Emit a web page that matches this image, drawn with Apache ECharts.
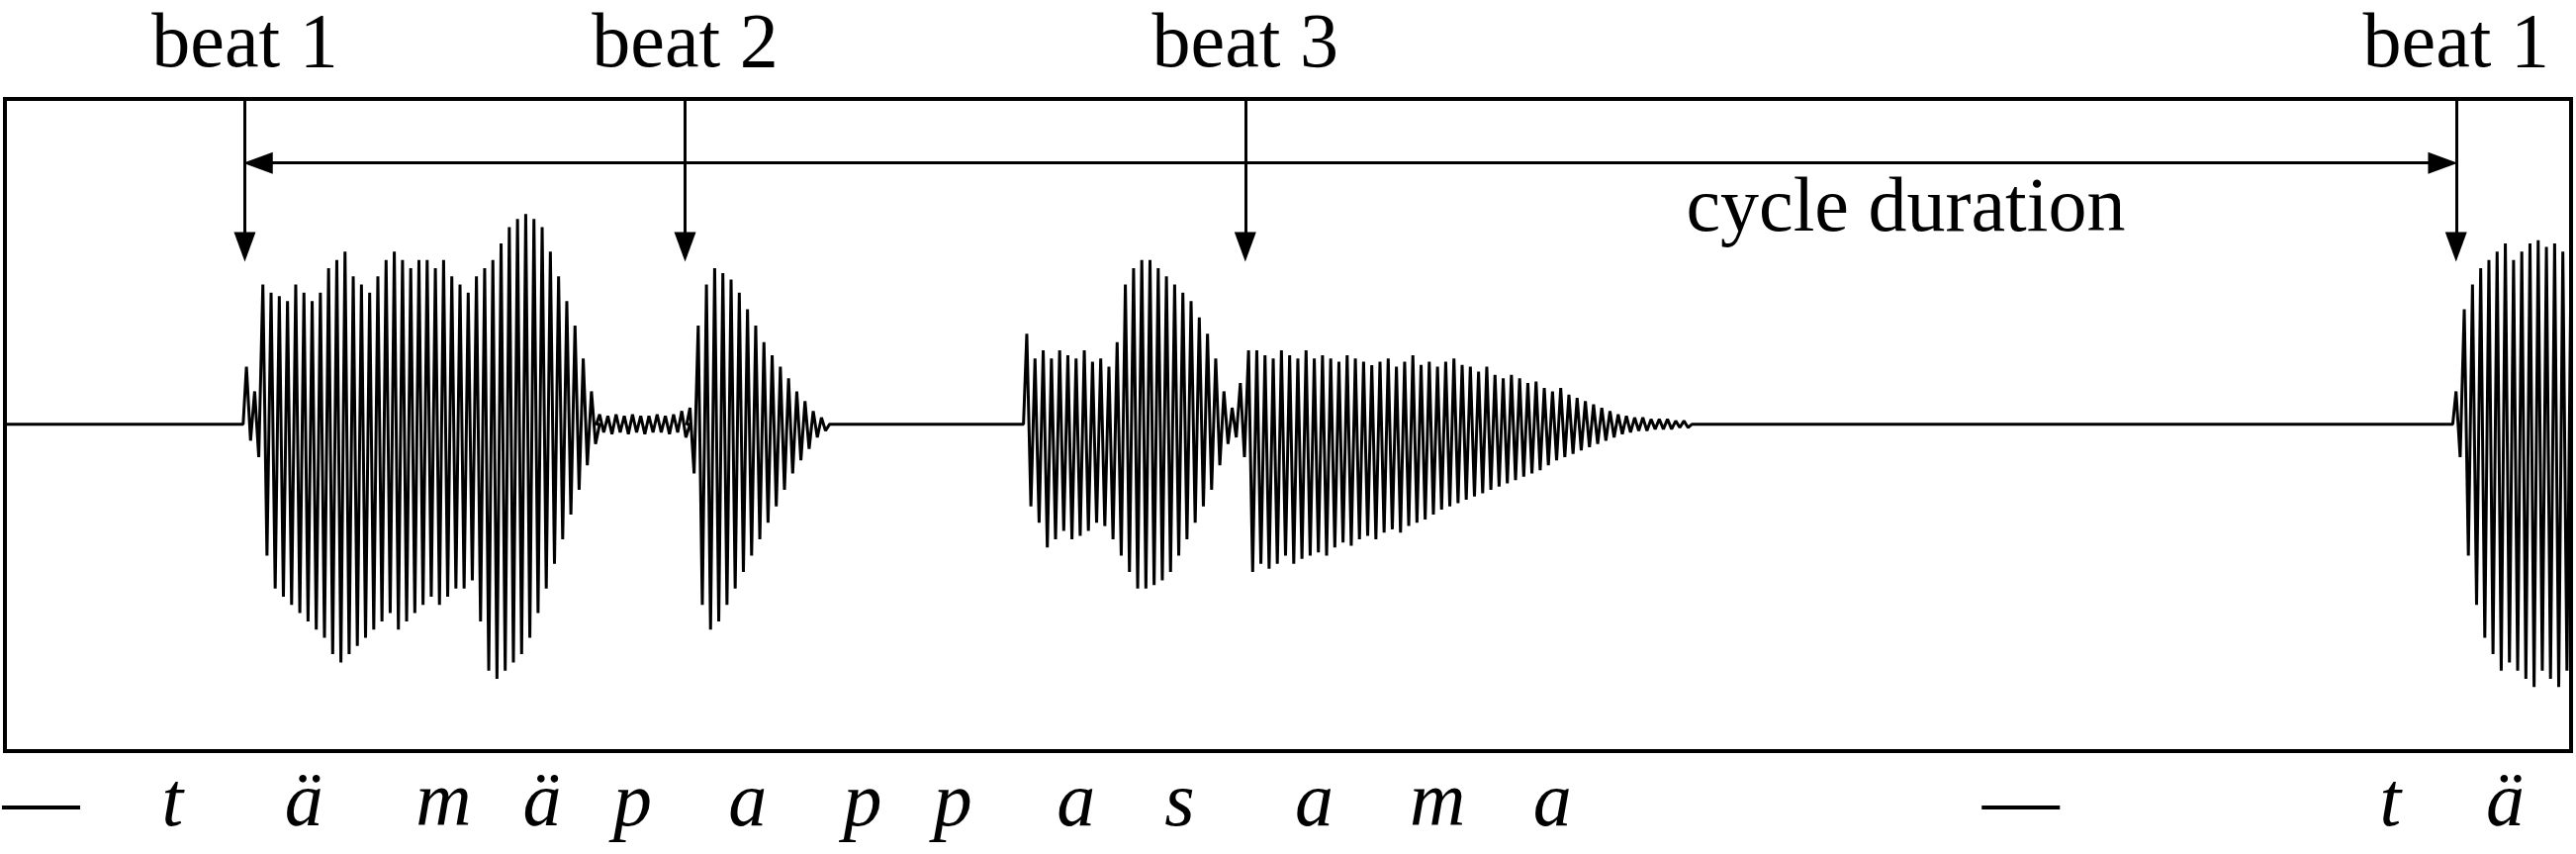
<!DOCTYPE html><html><head><meta charset="utf-8">
<script src="https://cdn.jsdelivr.net/npm/echarts@6/dist/echarts.min.js"></script>
<style>html,body{margin:0;background:#fff}#c{width:2604px;height:863px}</style></head><body><div id="c"></div><script>
// Envelope of waveform (amplitude up / down, in units of reference px), step 5
const regionStarts=[150,365,420,625,1495];
const regionTop=[
[35,20,85,80,78,75,85,80,75,80,95,100,105,90,85,80,90,100,105,100,95,100,100,95,100,90,85,80,90,95,100,110,120,125,128,125,120,105,90,75,60,40,20],
[6,5,6,5,6,5,5,6,5,6,8],
[10,60,85,95,92,88,80,70,60,50,42,35,28,20,14,8,4],
[55,40,45,40,45,42,40,45,38,40,35,50,85,95,100,100,95,90,85,80,75,65,55,40,20,10,25,45,45,42,40,45,42,40,45,40,42,40,38,42,40,38,36,38,40,35,38,42,36,38,35,38,40,36,35,32,35,30,28,30,28,25,26,22,20,22,18,16,14,12,10,8,6,5,4,4,3,3,3,2,2],
[20,70,85,95,100,105,110,100,105,110,112,108,110,105,100]];
const regionBot=[
[10,20,80,100,105,110,115,120,125,130,140,145,140,135,130,125,120,115,125,120,115,110,105,110,105,100,100,95,120,150,155,150,145,140,130,115,100,85,70,55,40,25,12],
[5,6,5,6,5,6,5,5,6,5,8],
[30,110,125,120,110,100,90,80,70,60,50,40,30,22,15,8,4],
[50,60,75,70,65,70,68,65,60,62,70,80,90,100,100,98,95,90,80,70,60,50,40,25,12,8,20,90,85,88,85,80,85,82,80,78,80,75,72,74,70,68,70,66,64,66,62,60,58,55,52,50,48,46,44,42,40,38,36,34,32,30,28,25,22,20,18,16,14,12,10,8,6,5,4,4,3,3,3,2,2],
[20,80,110,130,140,150,145,150,155,160,150,155,160,150,140]];
const beatX=[149,417,758,1495];
const beatLabels=['beat 1','beat 2','beat 3','beat 1'];
const syllables=['—','t','ä','m','ä','p','a','p','p','a','s','a','m','a','—','t','ä'];
const syllableX=[25,105,185,270,330,385,455,525,580,655,718,800,875,945,1230,1455,1525];

const data=[[3,0]];
regionStarts.forEach((s,r)=>{
  data.push([s-2,0]);
  regionTop[r].forEach((t,i)=>{const x=s+i*5;data.push([x,t]);data.push([x+2.5,-regionBot[r][i]]);});
  data.push([s+regionTop[r].length*5,0]);
});
data.push([1565,0]);

const S=2604/1568;
const chart=echarts.init(document.getElementById('c'));
const arrowLines=beatX.map(b=>[{coord:[b,198],symbol:'none'},{coord:[b,108],symbol:'triangle'}]);
arrowLines.push([{coord:[beatX[0]+8,159],symbol:'triangle'},{coord:[beatX[3]-8,159],symbol:'triangle'}]);
chart.setOption({
  animation:false,
  grid:{left:5,right:5,top:100,bottom:104,show:true,borderColor:'#000',borderWidth:4},
  xAxis:{type:'value',min:3,max:1565,show:false},
  yAxis:{type:'value',min:-199,max:198,show:false},
  series:[{type:'line',data:data,showSymbol:false,lineStyle:{color:'#000',width:3},
    markLine:{silent:true,symbolSize:[22,30],label:{show:false},lineStyle:{color:'#000',width:3,type:'solid'},data:arrowLines}}]
});
const font='Liberation Serif';
const g=[];
beatX.forEach((b,i)=>{const p=chart.convertToPixel({gridIndex:0},[b,0]);
  g.push({type:'text',x:p[0],y:28*S,style:{text:beatLabels[i],font:'78px "'+font+'"',fill:'#000',textAlign:'center',textVerticalAlign:'middle'}});});
g.push({type:'text',x:1160*S,y:128*S,style:{text:'cycle duration',font:'78px "'+font+'"',fill:'#000',textAlign:'center',textVerticalAlign:'middle'}});
syllableX.forEach((sx,i)=>{const p=chart.convertToPixel({gridIndex:0},[sx,0]);
  const dash=syllables[i]==='—';
  g.push({type:'text',x:p[0],y:490*S,style:{text:syllables[i],font:(dash?'':'italic ')+'78px "'+font+'"',fill:'#000',textAlign:'center',textVerticalAlign:'middle'}});});
chart.setOption({graphic:g});
</script></body></html>
